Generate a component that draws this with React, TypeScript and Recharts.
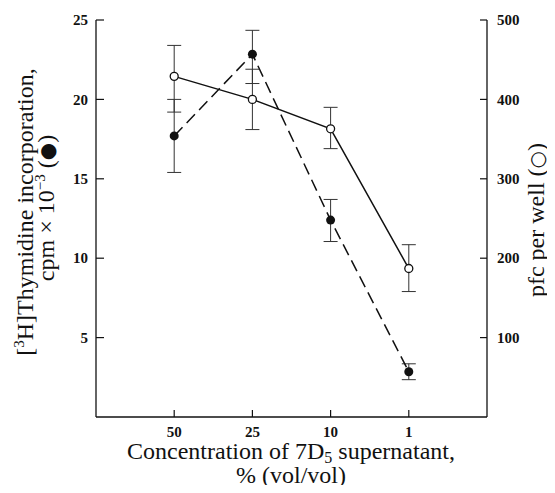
import React from "react";
import { LineChart, Line, XAxis, YAxis, ErrorBar } from "recharts";

// Categories (concentration of 7D5 supernatant, % vol/vol)
const concentrationLabels = ["50", "25", "10", "1"];
const categoryIndex = [1, 2, 3, 4];

// [3H]Thymidine incorporation, cpm x 10^-3 (filled circles, dashed line)
const thymidine = [17.7, 22.85, 12.4, 2.85];
const thymidineErrLow = [2.3, 1.85, 1.35, 0.5];
const thymidineErrHigh = [2.3, 1.5, 1.3, 0.5];

// pfc per well (open circles, solid line)
const pfc = [429, 400, 363, 187];
const pfcErrLow = [45, 38, 25, 29];
const pfcErrHigh = [39, 38, 27, 30];

// Axis ticks
const leftTicks = [5, 10, 15, 20, 25];
const rightTicks = [100, 200, 300, 400, 500];

const data = categoryIndex.map((x, i) => ({
  x,
  label: concentrationLabels[i],
  thymidine: thymidine[i],
  thErr: [thymidineErrLow[i], thymidineErrHigh[i]],
  pfc: pfc[i],
  pfcErr: [pfcErrLow[i], pfcErrHigh[i]],
}));

const FONT = '"Liberation Serif", "Times New Roman", serif';
const INK = "#111";
const W = 547;
const H = 477;

const LeftTick = (props: any) => {
  const { x, y, payload } = props;
  return (
    <g>
      <line x1={x} y1={y} x2={x + 8} y2={y} stroke={INK} strokeWidth={1.2} />
      <text x={x - 8} y={y} dy="0.35em" textAnchor="end" fontFamily={FONT} fontSize={15} fontWeight="bold" fill={INK}>
        {payload.value}
      </text>
    </g>
  );
};

const RightTick = (props: any) => {
  const { x, y, payload } = props;
  return (
    <g>
      <line x1={x - 7} y1={y} x2={x} y2={y} stroke={INK} strokeWidth={1.2} />
      <text x={x + 10} y={y} dy="0.35em" textAnchor="start" fontFamily={FONT} fontSize={15} fontWeight="bold" fill={INK}>
        {payload.value}
      </text>
    </g>
  );
};

const BottomTick = (props: any) => {
  const { x, y, payload } = props;
  const idx = categoryIndex.indexOf(payload.value);
  return (
    <g>
      <line x1={x} y1={y - 7} x2={x} y2={y} stroke={INK} strokeWidth={1.2} />
      <text x={x} y={y + 20} textAnchor="middle" fontFamily={FONT} fontSize={15} fontWeight="bold" fill={INK}>
        {idx >= 0 ? concentrationLabels[idx] : ""}
      </text>
    </g>
  );
};

const FilledDot = (p: any) => <circle key={`f-${p.index}`} cx={p.cx} cy={p.cy} r={4.5} fill={INK} />;
const OpenDot = (p: any) => (
  <circle key={`o-${p.index}`} cx={p.cx} cy={p.cy} r={4} fill="#fff" stroke={INK} strokeWidth={1.3} />
);

export default function App() {
  return (
    <div style={{ position: "relative", width: W, height: H, background: "#fff" }}>
      <LineChart width={W} height={H} data={data} margin={{ top: 12, right: 8, bottom: 38, left: 28 }}>
        <XAxis
          dataKey="x"
          type="number"
          domain={[0, 5]}
          ticks={categoryIndex}
          interval={0}
          tickSize={0}
          tickMargin={0}
          height={30}
          tickLine={false}
          axisLine={{ stroke: INK, strokeWidth: 1.3 }}
          tick={(p: any) => <BottomTick {...p} />}
        />
        <YAxis
          yAxisId="left"
          orientation="left"
          domain={[0, 25]}
          ticks={leftTicks}
          interval={0}
          allowDataOverflow
          width={60}
          tickSize={0}
          tickMargin={0}
          tickLine={false}
          axisLine={{ stroke: INK, strokeWidth: 1.3 }}
          tick={(p: any) => <LeftTick {...p} />}
        />
        <YAxis
          yAxisId="right"
          orientation="right"
          domain={[0, 500]}
          ticks={rightTicks}
          interval={0}
          allowDataOverflow
          width={60}
          tickSize={0}
          tickMargin={0}
          tickLine={false}
          axisLine={{ stroke: INK, strokeWidth: 1.3 }}
          tick={(p: any) => <RightTick {...p} />}
        />
        <Line
          yAxisId="left"
          dataKey="thymidine"
          type="linear"
          stroke={INK}
          strokeWidth={1.5}
          strokeDasharray="12 6"
          dot={FilledDot}
          activeDot={false}
          isAnimationActive={false}
        >
          <ErrorBar dataKey="thErr" direction="y" width={7} stroke="#333" strokeWidth={1} />
        </Line>
        <Line
          yAxisId="right"
          dataKey="pfc"
          type="linear"
          stroke={INK}
          strokeWidth={1.5}
          dot={OpenDot}
          activeDot={false}
          isAnimationActive={false}
        >
          <ErrorBar dataKey="pfcErr" direction="y" width={7} stroke="#333" strokeWidth={1} />
        </Line>
      </LineChart>
      <svg
        width={W}
        height={H}
        style={{ position: "absolute", left: 0, top: 0, pointerEvents: "none", overflow: "visible" }}
      >
        <text x={283} y={451} textAnchor="middle" fontFamily={FONT} fontSize={24} fill={INK}>
          Concentration of 7D
          <tspan fontSize={16} dy={4}>5</tspan>
          <tspan dy={-4}> supernatant,</tspan>
        </text>
        <text x={283} y={475} textAnchor="middle" fontFamily={FONT} fontSize={24} fill={INK}>
          % (vol/vol)
        </text>
        <g transform="translate(25 204) rotate(-90)">
          <text x={0} y={0} textAnchor="middle" fontFamily={FONT} fontSize={24} fill={INK}>
            [<tspan fontSize={15} dy={-9}>3</tspan>
            <tspan dy={9}>H]Thymidine incorporation,</tspan>
          </text>
        </g>
        <g transform="translate(46 200) rotate(-90)">
          <text x={0} y={0} textAnchor="middle" fontFamily={FONT} fontSize={24} fill={INK}>
            cpm × 10
            <tspan fontSize={15} dy={-9}>−3</tspan>
            <tspan dy={9}> (</tspan>
            <tspan fontFamily='"DejaVu Sans", sans-serif' fontSize={20}>●</tspan>
            <tspan>)</tspan>
          </text>
        </g>
        <g transform="translate(536 212) rotate(-90)">
          <text x={0} y={0} textAnchor="middle" fontFamily={FONT} fontSize={24} fill={INK}>
            pfc per well (<tspan fontFamily='"DejaVu Sans", sans-serif' fontSize={20}>○</tspan>)
          </text>
        </g>
      </svg>
    </div>
  );
}
